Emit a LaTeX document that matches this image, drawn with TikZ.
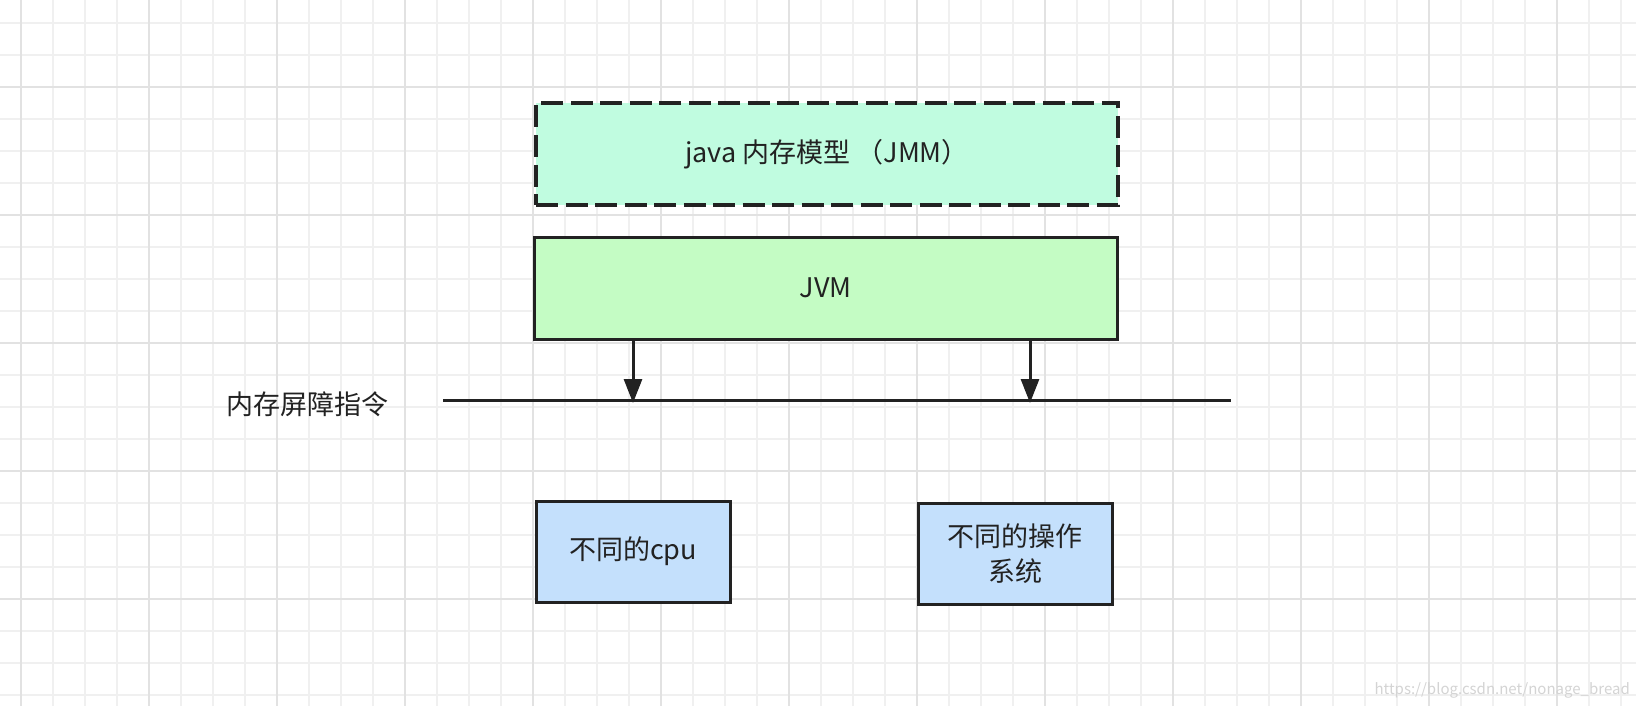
\documentclass[tikz,border=0pt]{standalone}
\usepackage{fontspec}
\setmainfont{Noto Sans CJK SC}
\usetikzlibrary{arrows.meta}
\definecolor{gridminor}{RGB}{240,240,240}
\definecolor{gridmajor}{RGB}{226,226,226}
\definecolor{ink}{RGB}{34,34,34}
\definecolor{mint}{RGB}{192,252,224}
\definecolor{lgreen}{RGB}{196,252,196}
\definecolor{lblue}{RGB}{196,224,252}
\definecolor{wmark}{RGB}{212,212,212}
\begin{document}
\begin{tikzpicture}[x=1pt,y=-1pt,
  box/.style={draw=ink, line width=3pt, rectangle, inner sep=0pt, outer sep=0pt,
    text=ink, font=\fontsize{27}{35}\selectfont, align=center},
  dashbox/.style={box, line width=3.3pt, dash pattern=on 22pt off 7.5pt},
  arr/.style={draw=ink, line width=3pt, -{Triangle[width=18pt,length=24pt]}},
  barrier/.style={draw=ink, line width=3pt},
  lbl/.style={text=ink, font=\fontsize{27}{35}\selectfont, inner sep=0pt}
]
\fill[white] (0,0) rectangle (1636,706);
\useasboundingbox (0,0) rectangle (1636,706);
% grid
\foreach \x in {21,53,...,1621} \draw[gridminor, line width=1.5pt] (\x,0) -- (\x,706);
\foreach \y in {23,55,...,695} \draw[gridminor, line width=1.5pt] (0,\y) -- (1636,\y);
\foreach \x in {21,149,...,1557} \draw[gridmajor, line width=2pt] (\x,0) -- (\x,706);
\foreach \y in {87,215,...,599} \draw[gridmajor, line width=2pt] (0,\y) -- (1636,\y);

% boxes
\node[dashbox, fill=mint, minimum width=582pt, minimum height=102pt] (jmm) at (827,154) {java 内存模型 （JMM）};
\node[box, fill=lgreen, minimum width=583pt, minimum height=102pt] (jvm) at (825.5,288) {JVM};
\node[box, fill=lblue, minimum width=194pt, minimum height=101pt] (cpu) at (633,551.5) {不同的cpu};
\node[box, fill=lblue, minimum width=194pt, minimum height=101pt] (os) at (1015,553.5) {不同的操作\\系统};

% barrier line
\coordinate (L) at (443,400);
\coordinate (R) at (1231,400);
\draw[barrier] (L) -- (R);
\node[lbl] (mb) at (307,404) {内存屏障指令};

% arrows
\coordinate (t1) at (633,403);
\coordinate (t2) at (1030,403);
\draw[arr] (jvm.south -| t1) -- (t1);
\draw[arr] (jvm.south -| t2) -- (t2);

% watermark
\node[anchor=east, text=wmark, font=\fontsize{15}{18}\selectfont, inner sep=0pt] (wm) at (1630,690) {https://blog.csdn.net/nonage\_bread};
\end{tikzpicture}
\end{document}
